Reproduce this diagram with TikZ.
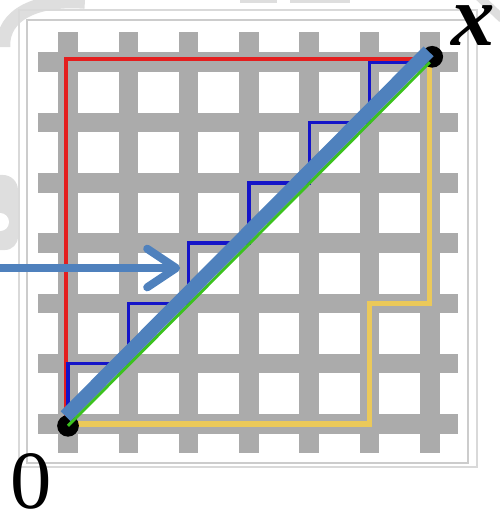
\documentclass[tikz,border=0pt]{standalone}
\usepackage{fontspec}
\setmainfont{Liberation Serif}
\usetikzlibrary{arrows.meta}

\definecolor{vermelho}{HTML}{E41E1E}
\definecolor{amarelo}{HTML}{EBC95A}
\definecolor{anil}{HTML}{1414C8}
\definecolor{verde}{HTML}{3CC21E}
\definecolor{azulaco}{HTML}{4F81BD}

\begin{document}
\begin{tikzpicture}
\tikzset{
    grade/.style={line width=9.2pt, color=black!33},
    moldura/.style={line width=0.9pt, color=black!15},
    fundo/.style={line width=6.5pt, color=black!13},
    caminho/.style={line width=#1, line join=miter},
    ponto/.style={circle, fill=black, inner sep=0pt, minimum size=0.36cm},
    diagonal/.style={line width=6.6pt, color=azulaco},
    seta/.style={line width=3.8pt, color=azulaco,
                 -{Straight Barb[length=4.8mm, width=6.4mm, round]}},
    rotulo/.style={inner sep=0pt, anchor=base}
}
\useasboundingbox (-1.128,-1.459) rectangle (7.148,7.032);
% restos do fundo
\draw[fundo] (0.28,7.0) .. controls (-0.5,7.06) and (-1.1,6.8) .. (-1.07,6.25);
\fill[black!13] (-1.2,2.885) -- (-1.05,2.885) arc (-90:0:0.22) -- (-0.83,3.88)
    arc (0:90:0.25) -- (-1.2,4.13) -- cycle;
\fill[white] (-1.128,3.35) circle (0.15);
\draw[fundo, line width=2pt] (2.86,7.02) -- (3.46,7.02);
\draw[fundo, line width=2pt] (3.68,7.02) -- (4.68,7.02);
\draw[fundo, line width=4pt] (6.8,7.1) -- (7.2,6.72);
% moldura da figura
\draw[moldura] (-0.813,-0.713) rectangle (6.783,6.866);
\draw[moldura, color=black!20] (-0.68,-0.647) rectangle (6.633,6.70);
% grade
\foreach \i in {0,...,6} {
    \draw[grade] (\i,-0.48) -- (\i,6.5);
    \draw[grade] (-0.5,\i) -- (6.47,\i);
}
% caminhos
\draw[caminho=1.9pt, vermelho] (-0.04,0) -- (-0.04,6.05) -- (6,6.05);
\draw[caminho=2.4pt, amarelo] (0,0) -- (5,0) -- (5,2) -- (6,2) -- (6,6);
\draw[caminho=1.6pt, anil] (0,0) -- (0,1) -- (1,1) -- (1,2) -- (2,2) -- (2,3)
    -- (3,3) -- (3,4) -- (4,4) -- (4,5) -- (5,5) -- (5,6) -- (6,6);
\node[ponto] (o) at (0,-0.03) {};
\node[ponto] (x) at (6.04,6.09) {};
\draw[line width=1.4pt, verde] (o.center) -- (6,6);
\draw[diagonal] ([shift={(-0.04,0.16)}]o.center) -- ([shift={(-0.06,0.09)}]x.center);
% seta
\coordinate (inicio) at (-1.2,2.587);
\coordinate (alvo) at (1.86,2.587);
\draw[seta] (inicio) -- (alvo);
% rotulos
\node[rotulo, font=\fontsize{41}{41}\selectfont\bfseries\itshape] (labx) at (6.716,6.285) {x};
\node[rotulo, font=\fontsize{39}{39}\selectfont] (lab0) at (-0.605,-1.393) {0};
\end{tikzpicture}
\end{document}
